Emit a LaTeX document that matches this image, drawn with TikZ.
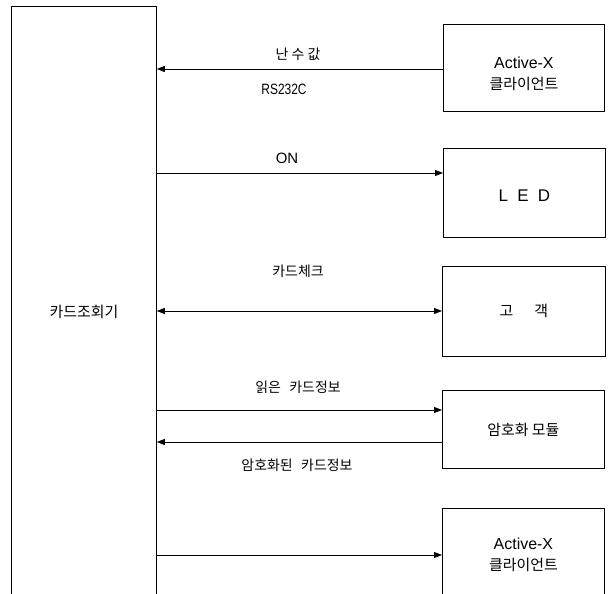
\documentclass[tikz,border=0pt]{standalone}
\usepackage{fontspec}
\setmainfont{Liberation Sans}
\newfontfamily\kr{Noto Sans CJK KR}
\usetikzlibrary{arrows.meta}
\begin{document}
\begin{tikzpicture}[x=1bp,y=-1bp,
  box/.style={draw,line width=0.8bp,inner sep=0,anchor=north west,align=center,
    font=\fontsize{15}{21}\selectfont},
  conn/.style={line width=0.8bp},
  tipr/.style={-{Triangle[length=8bp,width=6bp]}},
  tipb/.style={{Triangle[length=8bp,width=6bp]}-{Triangle[length=8bp,width=6bp]}},
  lbl/.style={inner sep=0,font=\kr\fontsize{14}{16}\selectfont},
  lat/.style={inner sep=0,font=\fontsize{15}{17}\selectfont},
  ]
\useasboundingbox (0,0) rectangle (612,594);
\clip (0,0) rectangle (612,594);
% boxes
\node[box,minimum width=145bp,minimum height=610bp] (reader) at (11,6) {\kr 카드조회기};
\node[box,minimum width=161bp,minimum height=87bp] (act1) at (443,24)
  {\rule{0pt}{24bp}\fontsize{16}{18}\selectfont Active-X\\{\kr 클라이언트}};
\node[box,minimum width=162bp,minimum height=89bp] (led) at (443,148)
  {\rule{0pt}{18bp}\fontsize{17}{19}\selectfont L\hspace{0.55em}E\hspace{0.55em}D};
\node[box,minimum width=163bp,minimum height=90bp] (cust) at (442,266)
  {\kr 고\hspace{1.4em}객};
\node[box,minimum width=162bp,minimum height=78bp] (enc) at (442,390)
  {\kr\fontsize{15}{17}\selectfont 암호화 모듈};
\node[box,minimum width=162bp,minimum height=92bp] (act2) at (442,508)
  {\fontsize{16}{18}\selectfont Active-X\\{\kr 클라이언트}};
% arrow levels
\coordinate (y1) at (0,69);
\coordinate (y2) at (0,173);
\coordinate (y3) at (0,311);
\coordinate (y4) at (0,410);
\coordinate (y5) at (0,442);
\coordinate (y6) at (0,555);
\draw[conn,tipr] (act1.west |- y1) -- (reader.east |- y1);
\draw[conn,tipr] (reader.east |- y2) -- (led.west |- y2);
\draw[conn,tipb] (reader.east |- y3) -- (cust.west |- y3);
\draw[conn,tipr] (reader.east |- y4) -- (enc.west |- y4);
\draw[conn,tipr] (enc.west |- y5) -- (reader.east |- y5);
\draw[conn,tipr] (reader.east |- y6) -- (act2.west |- y6);
% labels
\node[lbl] (l1) at (298,54) {난 수 값};
\node[lat] (l1b) at (284,89) {\scalebox{0.8}[1]{RS232C}};
\node[lat] (l2) at (287,158) {ON};
\node[lbl] (l3) at (298,271) {카드체크};
\node[lbl] (l4) at (298,387) {읽은\hspace{0.6em}카드정보};
\node[lbl] (l5) at (297,465) {암호화된\hspace{0.6em}카드정보};
\end{tikzpicture}
\end{document}
